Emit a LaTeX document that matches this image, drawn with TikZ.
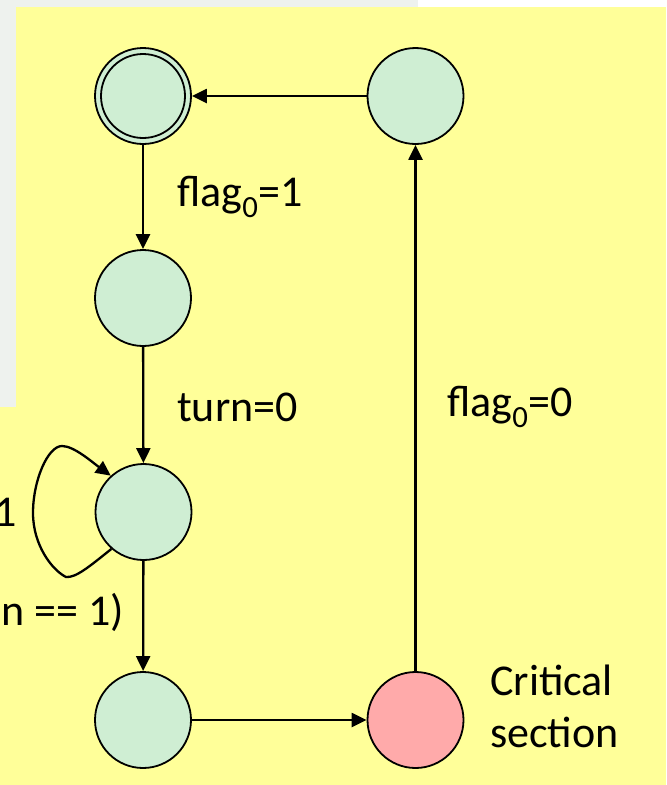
\documentclass[tikz,border=0pt]{standalone}
\usepackage{fontspec}
\setmainfont{Carlito}
\usetikzlibrary{arrows.meta}
\definecolor{panelgray}{HTML}{EEF2EE}
\definecolor{bgyellow}{HTML}{FFFF99}
\definecolor{stategreen}{HTML}{CFEED3}
\definecolor{statepink}{HTML}{FFAAAA}
\tikzset{
  state/.style={circle, draw=black, line width=1.8pt, fill=stategreen, minimum size=96pt, inner sep=0pt},
  crit/.style={state, fill=statepink},
  arr/.style={line width=2.3pt, -{Triangle[length=15pt,width=14pt]}},
  lbl/.style={font=\fontsize{44}{52}\selectfont, inner sep=0pt, text=black}
}
\begin{document}
\begin{tikzpicture}[x=1pt,y=-1pt]
\useasboundingbox (0,0) rectangle (667,785);
% backgrounds
\fill[white] (0,0) rectangle (667,785);
\fill[panelgray] (0,0) rectangle (418,407);
\fill[bgyellow] (16,7) rectangle (666,785);
\fill[bgyellow] (0,407) rectangle (16,785);
% states
\node[state] (A) at (143,96) {};
\draw[line width=1.8pt] (A.center) circle[radius=42pt];
\node[state] (B) at (415.5,96) {};
\node[state] (C) at (143,298) {};
\node[state] (D) at (143.5,512) {};
\node[state] (E) at (143,720) {};
\node[crit] (F) at (415.5,720) {};
% connectors
\draw[arr] (B) -- (A);
\draw[arr] (A) -- (C);
\draw[arr] (C) -- (D);
\draw[arr] (D) -- (E);
\draw[arr] (E) -- (F);
\draw[arr] (F) -- (B);
\coordinate (L1) at (66,577);
\coordinate (L2) at (33,513);
\coordinate (L3) at (62,446);
\draw[arr] (D.229) .. controls (90,566) and (76,578) .. (L1)
  .. controls (52,570) and (33,545) .. (L2)
  .. controls (33,480) and (48,446) .. (L3)
  .. controls (74,446) and (92,462) .. (D.132);
% labels
\node[lbl, anchor=west] (t1) at (177,197) {flag\textsubscript{0}=1};
\node[lbl, anchor=west] (t2) at (177,407) {turn=0};
\node[lbl, anchor=west] (t3) at (447,407) {flag\textsubscript{0}=0};
\node[lbl, anchor=east] (t4) at (17,512) {1};
\node[lbl, anchor=east] (t5) at (124,612) {n == 1)};
\node[lbl, anchor=west, align=left] (t6) at (490,706) {Critical\\section};
\end{tikzpicture}
\end{document}
